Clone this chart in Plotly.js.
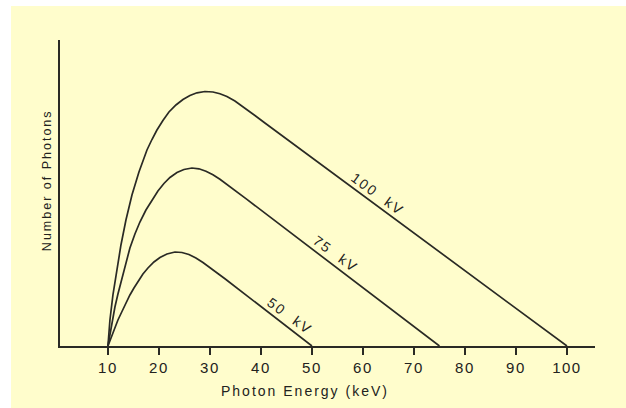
<!DOCTYPE html>
<html>
<head>
<meta charset="utf-8">
<script src="https://cdn.plot.ly/plotly-3.0.1.min.js"></script>
<style>
  html, body { margin: 0; padding: 0; background: #ffffff; width: 626px; height: 408px; overflow: hidden; }
  #chart { position: absolute; left: 11px; top: 6px; width: 615px; height: 402px; }
  .xtick text { letter-spacing: 1.5px; }
  .annotation-text { letter-spacing: 2px; }
</style>
</head>
<body>
<div id="chart"></div>
<script>
// Photon energy (keV) and relative number of photons for each tube voltage
const energy100 = [10, 10.39, 10.98, 11.76, 12.55, 13.53, 14.71, 16.08, 17.65, 18.63, 19.61, 20.78, 21.96, 23.33, 24.71, 26.08, 27.45, 29.02, 30.59, 31.96, 33.33, 34.90, 36.86, 38.82, 40.78, 100];
const photons100 = [0, 8.50, 16.67, 24.84, 33.01, 41.18, 49.35, 56.86, 64.05, 67.48, 70.59, 73.69, 76.47, 78.76, 80.56, 81.86, 82.75, 83.17, 83.01, 82.42, 81.54, 80.07, 77.78, 75.33, 72.88, 0];

const energy75 = [10, 10.39, 10.88, 11.37, 11.96, 12.75, 13.53, 14.31, 15.29, 16.27, 17.45, 18.63, 19.80, 20.98, 22.16, 23.53, 24.90, 26.47, 27.84, 29.22, 30.59, 31.96, 33.53, 35.29, 37.25, 75];
const photons75 = [0, 3.92, 8.50, 12.75, 16.99, 22.22, 27.45, 32.03, 36.60, 40.52, 44.44, 47.71, 50.65, 53.10, 55.07, 56.70, 57.68, 58.17, 57.91, 57.12, 55.95, 54.48, 52.61, 50.39, 47.91, 0];

const energy50 = [10, 10.39, 10.88, 11.37, 11.96, 12.75, 13.53, 14.31, 15.10, 15.88, 16.86, 17.84, 19.02, 20.20, 21.57, 23.14, 24.51, 25.88, 27.25, 28.63, 30.0, 31.37, 32.94, 50];
const photons50 = [0, 1.63, 3.92, 6.21, 8.50, 11.27, 14.05, 16.67, 18.95, 21.08, 23.53, 25.49, 27.45, 28.92, 30.07, 30.72, 30.56, 29.90, 28.76, 27.29, 25.65, 23.95, 21.99, 0];

const tickValues = [10, 20, 30, 40, 50, 60, 70, 80, 90, 100];
const tickLabels = ['10', '20', '30', '40', '50', '60', '70', '80', '90', '100'];

const curveLabels = ['100  kV', '75  kV', '50  kV'];
const labelEnergy = [62.9, 54.7, 45.7];
const labelPhotons = [49.7, 30.1, 9.8];

const lineStyle = { color: '#2a2a25', width: 1.7, shape: 'linear' };

const traces = [
  { x: energy100, y: photons100, mode: 'lines', line: lineStyle, hoverinfo: 'skip' },
  { x: energy75, y: photons75, mode: 'lines', line: lineStyle, hoverinfo: 'skip' },
  { x: energy50, y: photons50, mode: 'lines', line: lineStyle, hoverinfo: 'skip' }
];

const annFont = { family: 'Liberation Sans, Arial, sans-serif', size: 14, color: '#222220' };
const annotations = curveLabels.map((t, i) => ({
  x: labelEnergy[i], y: labelPhotons[i], xref: 'x', yref: 'y',
  text: t, showarrow: false, textangle: 36, font: annFont,
  xanchor: 'center', yanchor: 'middle'
}));
annotations.push({
  x: 0.458, y: -0.147, xref: 'paper', yref: 'paper',
  text: 'Photon Energy (keV)', showarrow: false, font: annFont,
  xanchor: 'center', yanchor: 'middle'
});
annotations.push({
  x: -0.0243, y: 0.542, xref: 'paper', yref: 'paper',
  text: 'Number of Photons', showarrow: false, textangle: -90,
  font: { family: 'Liberation Sans, Arial, sans-serif', size: 12.5, color: '#222220' },
  xanchor: 'center', yanchor: 'middle'
});

const layout = {
  width: 615, height: 402,
  margin: { l: 49, r: 31, t: 34, b: 62 },
  paper_bgcolor: '#fffdcc',
  plot_bgcolor: '#fffdcc',
  showlegend: false,
  xaxis: {
    range: [0.6, 105.5],
    tickvals: tickValues, ticktext: tickLabels,
    ticks: 'outside', ticklen: 7, tickwidth: 1.4, tickcolor: '#2a2a25',
    showline: true, linecolor: '#2a2a25', linewidth: 1.7,
    showgrid: false, zeroline: false,
    tickfont: { family: 'Liberation Sans, Arial, sans-serif', size: 15, color: '#222220' },
    fixedrange: true
  },
  yaxis: {
    range: [0, 100],
    showticklabels: false, ticks: '',
    showline: true, linecolor: '#2a2a25', linewidth: 1.7,
    showgrid: false, zeroline: false,
    fixedrange: true
  },
  annotations: annotations
};

Plotly.newPlot('chart', traces, layout, { displayModeBar: false, staticPlot: true });
</script>
</body>
</html>
